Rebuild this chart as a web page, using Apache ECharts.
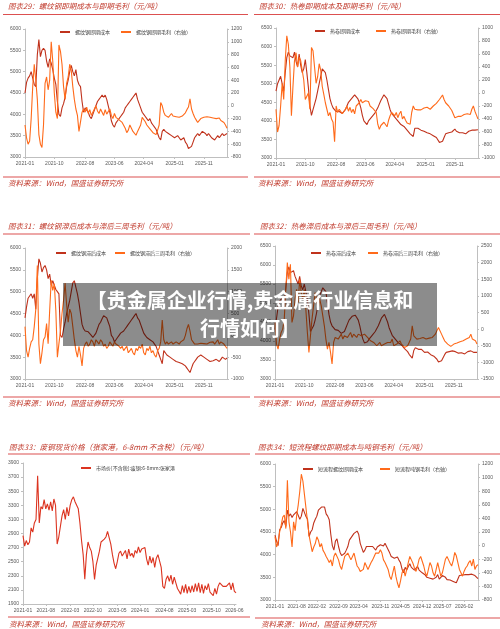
<!DOCTYPE html>
<html>
<head>
<meta charset="utf-8">
<script src="https://cdn.jsdelivr.net/npm/echarts@6/dist/echarts.min.js"></script>
<style>
  html, body { margin: 0; padding: 0; background: #fff; }
  #chart { width: 500px; height: 629px; }
</style>
</head>
<body>
<div id="chart"></div>
<script>
// Half-month categories, 2021-01 .. 2026-06
const halfMonths = [];
for (let y = 2021; y <= 2026; y++) {
  for (let m = 1; m <= 12; m++) {
    if (y === 2026 && m > 6) break;
    const mm = String(m).padStart(2, '0');
    halfMonths.push(`${y}-${mm}-01`, `${y}-${mm}-16`);
  }
}

// Tick labels
const ticksSpot = ['2021-01', '2021-10', '2022-08', '2023-06', '2024-04', '2025-01', '2025-11'];
const ticksScrap = ['2021-01', '2021-08', '2022-03', '2022-10', '2023-05', '2024-01', '2024-08', '2025-03', '2025-10', '2026-06'];
const ticksEaf = ['2021-01', '2021-08', '2022-02', '2022-09', '2023-04', '2023-11', '2024-05', '2024-12', '2025-07', '2026-02'];

// 图表29 螺纹钢即期成本 / 即期毛利
const rebarSpotCost = [
  4500,4750,4850,4900,5000,4850,4700,4650,5400,5750,5350,5500,
  5550,5500,5250,5100,5300,5200,5050,4850,4700,4300,4000,3950,
  4150,4250,4400,4650,4800,5000,5150,5000,4900,5050,4800,4700,
  4650,4300,4050,4150,4100,4050,3950,3900,4000,4100,4200,4300,
  4350,4400,4450,4400,4450,4350,4200,4050,3850,3750,3700,3800,
  3850,3900,3950,4000,4050,4150,4200,4250,4300,4350,4400,4450,
  4500,4350,4250,4150,4050,4000,3950,3900,3850,3900,3800,3750,
  3700,3650,3550,3450,3400,3600,3650,3600,3600,3550,3550,3500,
  3500,3450,3450,3500,3450,3400,3400,3450,3350,3300,3200,3180,
  3250,3350,3450,3500,3550,3500,3550,3600,3600,3550,3500,3550,
  3500,3450,3450,3400,3450,3500,3450,3500,3550,3500,3500,3550
];
const rebarSpotMargin = [
  -300,-500,-600,-550,-200,300,650,400,100,-450,-600,-650,
  -300,350,450,250,400,1000,700,200,-100,-200,950,850,
  650,300,100,350,450,650,550,300,100,-50,-150,-400,
  -250,-100,-50,-100,-20,-120,-60,-150,-100,-50,0,-80,
  -120,-50,-100,-150,-60,-130,-100,-50,-150,-200,-120,-180,
  -160,-220,-200,-260,-280,-350,-420,-380,-300,-350,-400,-420,
  -460,-400,-350,-300,-180,-150,-250,-300,-320,-360,-380,-420,
  -400,-450,-380,-300,50,0,-100,-150,-120,-180,-150,-120,
  -160,-130,-170,-140,-180,-150,-160,-130,-110,-60,-20,110,
  -50,-120,-180,-220,-260,-240,-200,-180,-180,-200,-170,-190,
  -180,-200,-190,-170,-200,-180,-190,-230,-200,-260,-300,-350
];

// 图表30 热卷即期成本 / 即期毛利
const hrcSpotCost = [
  4800,5000,5100,5200,5150,4800,5300,5700,5850,5750,5800,5700,
  5850,5600,5450,5800,5500,5300,5400,5650,5300,4900,4400,4150,
  4300,4450,4600,4800,5000,5200,5400,5450,5300,5100,4850,4600,
  4450,4350,4300,4250,4300,4250,4250,4200,4250,4300,4400,4500,
  4550,4600,4650,4700,4650,4600,4500,4350,4150,4000,3950,3900,
  4000,4050,4100,4150,4200,4250,4350,4450,4550,4600,4700,4750,
  4600,4450,4300,4200,4150,4100,4050,4000,3950,3900,3900,3850,
  3800,3750,3700,3650,3600,3580,3800,3850,3800,3780,3750,3780,
  3720,3700,3680,3700,3650,3620,3600,3580,3550,3520,3420,3400,
  3450,3550,3650,3700,3680,3720,3700,3750,3780,3720,3700,3680,
  3650,3680,3700,3650,3680,3720,3700,3750,3720,3750,3730,3760
];
const hrcSpotMargin = [
  -250,-600,-500,-200,150,-100,500,880,750,400,-350,100,
  500,620,400,550,500,350,200,-100,-50,0,-250,700,
  650,400,150,250,450,350,100,-20,-150,-250,-350,-300,
  -400,-450,-750,-200,-300,-250,-280,-320,-350,-250,-200,-280,
  -220,-300,-250,-320,-200,-230,-150,-100,-150,-130,-120,-150,
  -130,-200,-220,-240,-260,-300,-480,-560,-500,-480,-450,-470,
  -520,-420,-350,-300,-330,-350,-300,-380,-320,-280,-400,-360,
  -420,-460,-470,-480,-300,-200,-250,-270,-260,-280,-260,-240,
  -230,-260,-220,-200,-250,-220,-200,-180,-160,-140,-100,-80,
  -30,-100,-150,-180,-200,-230,-270,-300,-380,-410,-360,-380,
  -360,-340,-330,-350,-320,-300,-330,-250,-200,-280,-340,-400
];

// 图表31 螺纹钢滞后成本 / 滞后三周毛利
const rebarLagCost = [
  4400,4650,4850,4900,4950,4850,4950,4600,5300,5750,5650,5450,
  5550,5600,5500,5300,5400,5150,5250,5150,5050,5000,4950,4000,
  3950,4150,4300,4500,4650,4800,5000,5200,5250,5100,4950,4750,
  4500,4250,4150,4100,4100,4080,4050,4000,3950,3980,4050,4150,
  4250,4300,4380,4450,4450,4400,4300,4200,4000,3950,3850,3900,
  3950,4000,4050,4050,4100,4150,4200,4250,4300,4350,4400,4450,
  4500,4400,4350,4250,4150,4050,4000,3950,3950,3900,3900,3850,
  3800,3750,3650,3550,3450,3350,3650,3600,3550,3580,3500,3480,
  3450,3430,3400,3420,3380,3400,3350,3320,3300,3250,3200,3150,
  3250,3350,3400,3450,3500,3520,3550,3520,3500,3480,3450,3420,
  3400,3380,3420,3400,3450,3420,3400,3450,3500,3480,3450,3480
];
const rebarLagMargin = [
  200,-350,-500,-300,-150,-100,200,600,1600,-200,-650,-400,
  -100,-40,270,-190,570,1260,1030,1180,570,-500,-190,100,
  500,800,1200,700,300,600,500,200,-100,-350,-500,-250,
  -450,-700,-300,-200,-150,-250,-200,-100,-150,-250,-100,-150,
  -200,-100,-150,-250,-200,-300,-250,-150,-200,-250,-150,-200,
  -200,-250,-300,-250,-350,-300,-250,-400,-350,-300,-400,-450,
  -300,-350,-250,-300,-200,-400,-450,-300,-350,-250,-400,-350,
  -450,-500,-350,-300,-150,350,-100,-200,-150,-200,-180,-150,
  -200,-170,-150,-180,-200,-150,-120,-100,0,150,250,100,
  -100,-150,-200,-180,-200,-220,-180,-200,-190,-170,-200,-180,
  -160,-120,-150,-200,-180,-100,-200,-150,-180,-200,-250,-300
];

// 图表32 热卷滞后成本 / 滞后三周毛利
const hrcLagCost = [
  4300,4600,4900,5050,5100,5150,5000,5400,5800,5950,5800,5750,
  5850,5700,5600,5500,5700,5450,5350,5500,5300,5100,4700,4250,
  4200,4400,4550,4750,5000,5200,5300,5400,5450,5300,5000,4700,
  4500,4400,4350,4300,4300,4280,4250,4200,4200,4250,4350,4450,
  4550,4600,4650,4700,4680,4620,4550,4400,4200,4050,3950,3920,
  3980,4050,4100,4150,4200,4250,4300,4400,4500,4600,4650,4700,
  4650,4500,4350,4250,4150,4100,4050,4000,3950,3920,3900,3850,
  3800,3780,3720,3650,3600,3550,3750,3820,3800,3780,3760,3780,
  3740,3700,3690,3710,3670,3640,3620,3600,3560,3520,3450,3400,
  3480,3560,3640,3700,3680,3720,3700,3740,3760,3720,3700,3680,
  3660,3690,3700,3660,3680,3720,3700,3740,3720,3700,3730,3700
];
const hrcLagMargin = [
  200,-450,-600,-300,-100,0,300,1200,2000,1500,1950,200,
  400,900,1200,800,1500,1100,900,1200,600,-100,-700,-200,
  300,700,1100,900,600,900,700,400,100,-300,-600,-400,
  -700,-1050,-400,-250,-200,-300,-250,-150,-300,-200,-150,-250,
  -200,-100,-250,-150,-200,-250,-150,-100,-200,-250,-150,-200,
  -250,-300,-350,-300,-400,-350,-500,-450,-400,-500,-550,-450,
  -500,-400,-350,-400,-300,-500,-550,-450,-400,-350,-450,-500,
  -550,-600,-500,-400,-300,100,-200,-250,-300,-250,-280,-300,
  -250,-280,-300,-250,-270,-300,-250,-200,-150,-100,50,80,
  -150,-250,-350,-400,-450,-500,-520,-480,-450,-430,-420,-400,
  -380,-400,-350,-380,-300,-350,-250,-150,-300,-330,-350,-450
];

// 图表33 废钢现货价格（张家港）
const scrapPrice = [
  2870,2720,2800,2740,2780,2980,2920,3050,3100,3720,3050,3280,
  3250,3380,3250,3320,3230,3350,3220,3390,3300,2750,2850,3000,
  3150,3240,3100,3270,3150,3300,3380,3420,3350,3330,3250,3050,
  2800,2600,2250,2600,2780,2700,2650,2500,2250,2450,2550,2650,
  2780,2760,2820,2850,2930,2950,2750,2600,2480,2400,2500,2620,
  2650,2580,2620,2660,2540,2680,2580,2620,2560,2660,2620,2710,
  2630,2680,2660,2700,2540,2450,2580,2480,2560,2420,2550,2600,
  2620,2420,2150,2120,2250,2300,2220,2310,2180,2280,2200,2120,
  2080,2040,2160,2060,2180,2050,2150,2060,2160,2070,2190,2080,
  2200,2060,2180,2050,2160,2100,2190,2070,2060,2020,2120,2040,
  2150,2200,2210,2150,2140,2150,2140,2200,2100,2200,2080,2060
];

// 图表34 短流程螺纹即期成本 / 吨钢毛利
const eafCost = [
  4430,4300,4200,4550,4600,4700,4750,4620,4980,4850,4900,4820,
  4880,4920,4950,4980,4780,4850,5020,4980,4840,4780,4400,4500,
  4550,4700,4780,4850,4980,5020,5050,5090,5050,4900,4850,4770,
  4450,4200,4100,4300,4350,4180,4050,3980,3960,4030,4100,4180,
  4320,4340,4420,4470,4500,4520,4450,4250,4150,4050,4100,4180,
  4140,4180,4140,4180,4140,4100,4170,4210,4220,4180,4190,4250,
  4180,4200,4040,3960,4000,3920,3880,3950,3880,3820,3680,3600,
  3720,3660,3740,3800,3720,3700,3660,3700,3740,3660,3700,3600,
  3580,3550,3500,3530,3480,3520,3460,3420,3500,3560,3460,3500,
  3540,3580,3500,3450,3480,3440,3480,3410,3440,3380,3360,3540,
  3560,3550,3590,3560,3590,3560,3550,3570,3560,3540,3500,3470
];
const eafMargin = [
  130,-20,50,200,300,420,450,250,960,350,200,-20,
  350,220,450,600,800,1050,950,750,550,350,150,30,
  -90,-20,30,130,80,-20,30,-70,-110,-160,-200,-250,
  -210,-300,-160,-110,-90,-210,-300,-350,-250,-160,-180,-110,
  -160,-210,-160,-110,-210,-300,-330,-380,-400,-350,-250,-300,
  -350,-300,-250,-210,-160,-110,-90,-110,-60,-110,-210,-250,
  -300,-350,-450,-500,-400,-300,-450,-550,-620,-520,-400,-350,
  -450,-350,-250,-160,-210,-260,-330,-380,-300,-200,-160,-230,
  -300,-400,-450,-350,-250,-300,-400,-450,-350,-250,-350,-450,
  -400,-300,-200,-160,-210,-260,-300,-220,-100,-150,-250,-350,
  -400,-450,-380,-330,-300,-250,-220,-300,-200,-350,-300,-280
];

const costRed = '#c0321c';
const marginOrange = '#ff6a1a';
const scrapRed = '#dc3420';
const axisGray = '#bfbfbf';
const labelGray = '#595959';
const titleRed = '#c0392b';
const ruleRed = '#dc5050';
const cjk = '"Noto Sans CJK SC", "Noto Sans", sans-serif';

// layout of the six panels
const panels = [
  { box: [25, 29, 202, 128], ticks: ticksSpot, left: [3000, 6000, 500], right: [-800, 1200, 200],
    series: [['螺纹钢即期成本', rebarSpotCost, costRed], ['螺纹钢即期毛利（右轴）', rebarSpotMargin, marginOrange]],
    legend: [[60, 32], [121, 32]] },
  { box: [276, 28, 202, 130], ticks: ticksSpot, left: [3000, 6500, 500], right: [-1000, 1000, 200],
    series: [['热卷即期成本', hrcSpotCost, costRed], ['热卷即期毛利（右轴）', hrcSpotMargin, marginOrange]],
    legend: [[315, 31], [376, 31]] },
  { box: [25, 248, 202, 131], ticks: ticksSpot, left: [3000, 6000, 500], right: [-1000, 2000, 500],
    series: [['螺纹钢滞后成本', rebarLagCost, costRed], ['螺纹钢滞后三周毛利（右轴）', rebarLagMargin, marginOrange]],
    legend: [[56, 253], [115, 253]] },
  { box: [275, 246, 202, 133], ticks: ticksSpot, left: [3000, 6500, 500], right: [-1500, 2500, 500],
    series: [['热卷滞后成本', hrcLagCost, costRed], ['热卷滞后三周毛利（右轴）', hrcLagMargin, marginOrange]],
    legend: [[311, 253], [368, 253]] },
  { box: [23, 463, 213, 141], ticks: ticksScrap, left: [1900, 3900, 200], right: null,
    series: [['市场价[不含税]:废钢:6-8mm:张家港', scrapPrice, scrapRed]],
    legend: [[81, 468]] },
  { box: [275, 464, 203, 136], ticks: ticksEaf, left: [3000, 6000, 500], right: [-800, 1200, 200],
    series: [['短流程螺纹即期成本', eafCost, costRed], ['短流程吨钢毛利（右轴）', eafMargin, marginOrange]],
    legend: [[303, 469], [380, 469]] }
];

const titles = [
  [8, 6, '图表29：螺纹钢即期成本与即期毛利（元/吨）'],
  [259, 6, '图表30：热卷即期成本及即期毛利（元/吨）'],
  [8, 226, '图表31：螺纹钢滞后成本与滞后三周毛利（元/吨）'],
  [260, 226, '图表32：热卷滞后成本与滞后三周毛利（元/吨）'],
  [9, 447, '图表33：废钢现货价格（张家港，6-8mm 不含税）（元/吨）'],
  [258, 447, '图表34：短流程螺纹即期成本与吨钢毛利（元/吨）']
];
const sources = [[8, 183], [258, 183], [8, 403], [258, 403], [9, 624], [261, 624]];
const rules = [
  [3, 248, 14.5], [254, 500, 14.5], [3, 248, 177], [254, 500, 177],
  [3, 250, 234], [254, 500, 234], [3, 250, 397], [254, 500, 397],
  [8, 250, 454], [255, 500, 454], [8, 250, 617], [255, 500, 618]
];

// the source axis spaces its date labels evenly (trading-day axis),
// so put each label on the half-month nearest to an even split
function tickMap(ticks) {
  const last = halfMonths.indexOf(ticks[ticks.length - 1] + '-01');
  const map = {};
  ticks.forEach((t, k) => { map[Math.round(k * last / (ticks.length - 1))] = t; });
  return map;
}

function valueAxis(gridIndex, position, range) {
  return {
    type: 'value', gridIndex, position,
    min: range[0], max: range[1], interval: range[2],
    axisLine: { show: true, onZero: false, lineStyle: { color: axisGray, width: 1 } },
    axisTick: { show: true, length: 2, lineStyle: { color: axisGray } },
    splitLine: { show: false },
    axisLabel: { fontSize: 5, color: labelGray, margin: 4, fontFamily: 'Arial', formatter: v => String(v) }
  };
}

const option = {
  animation: false,
  grid: [], xAxis: [], yAxis: [], series: [], legend: [], graphic: []
};

panels.forEach((p, gi) => {
  const labels = tickMap(p.ticks);
  const isTick = i => labels[i] !== undefined;
  option.grid.push({ left: p.box[0], top: p.box[1], width: p.box[2], height: p.box[3] });
  option.xAxis.push({
    type: 'category', gridIndex: gi, data: halfMonths, boundaryGap: false,
    axisLine: { onZero: false, lineStyle: { color: axisGray } },
    axisTick: { show: true, length: 2, interval: isTick, lineStyle: { color: axisGray } },
    axisLabel: {
      interval: isTick, formatter: (v, i) => labels[i] || '',
      fontSize: 5, color: labelGray, margin: 4, fontFamily: 'Arial'
    }
  });
  const leftIdx = option.yAxis.length;
  option.yAxis.push(valueAxis(gi, 'left', p.left));
  let rightIdx = leftIdx;
  if (p.right) {
    rightIdx = option.yAxis.length;
    option.yAxis.push(valueAxis(gi, 'right', p.right));
  }
  p.series.forEach(([name, data, color], si) => {
    option.series.push({
      name, type: 'line', data,
      xAxisIndex: gi, yAxisIndex: si === 0 ? leftIdx : rightIdx,
      symbol: 'none', showSymbol: false,
      lineStyle: { width: 1.1, color }, itemStyle: { color },
      z: 2 + si
    });
    const [lx, ly] = p.legend[si];
    option.legend.push({
      data: [name], left: lx, top: ly - 3, padding: 0,
      icon: 'rect', itemWidth: 10, itemHeight: 2, selectedMode: false,
      textStyle: { fontSize: 5, color: '#404040', fontFamily: cjk, lineHeight: 6 }
    });
  });
});

titles.forEach(([x, y, text]) => {
  option.graphic.push({
    type: 'text', x, y, z: 50,
    style: { text, fontSize: 7.5, fontStyle: 'italic', fontFamily: cjk, fill: titleRed,
      verticalAlign: 'middle', textVerticalAlign: 'middle' }
  });
});
sources.forEach(([x, y]) => {
  option.graphic.push({
    type: 'text', x, y, z: 50,
    style: { text: '资料来源：Wind，国盛证券研究所', fontSize: 7.5, fontStyle: 'italic', fontFamily: cjk,
      fill: titleRed, verticalAlign: 'middle', textVerticalAlign: 'middle' }
  });
});
rules.forEach(([x1, x2, y]) => {
  option.graphic.push({
    type: 'line', z: 50, shape: { x1, y1: y, x2, y2: y },
    style: { stroke: ruleRed, lineWidth: 1.2 }
  });
});

// overlay banner
option.graphic.push({
  type: 'rect', z: 100, shape: { x: 63, y: 283, width: 374, height: 63 },
  style: { fill: 'rgba(0,0,0,0.45)' }
});
[['【贵金属企业行情,贵金属行业信息和', 300], ['行情如何】', 328]].forEach(([text, y]) => {
  option.graphic.push({
    type: 'text', x: 250, y, z: 101,
    style: { text, fontSize: 20, fontWeight: 'bold', fontFamily: cjk, fill: '#ffffff',
      align: 'center', textAlign: 'center', verticalAlign: 'middle', textVerticalAlign: 'middle' }
  });
});

const chart = echarts.init(document.getElementById('chart'));
chart.setOption(option);
</script>
</body>
</html>
